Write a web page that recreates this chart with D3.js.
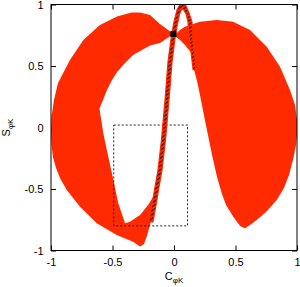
<!DOCTYPE html>
<html><head><meta charset="utf-8">
<script src="https://cdn.jsdelivr.net/npm/d3@7"></script>
<style>
body{margin:0;background:#fff}
svg{display:block}
text{font-family:"Liberation Sans",Arial,Helvetica,sans-serif}
</style>
</head><body>
<svg id="chart" width="300" height="287"></svg>
<script>
// ---- data (C_phiK, S_phiK) ----
const xTicks = [-1, -0.5, 0, 0.5, 1];
const yTicks = [-1, -0.5, 0, 0.5, 1];
const xTickLabels = ["-1", "-0.5", "0", "0.5", "1"];
const yTickLabels = ["-1", "-0.5", "0", "0.5", "1"];

// left crescent-shaped allowed region
const leftRegion = [
  [-0.004,0.760],[-0.114,0.841],[-0.195,0.915],[-0.276,0.935],[-0.344,0.935],[-0.463,0.902],
  [-0.602,0.833],[-0.737,0.711],[-0.846,0.549],[-0.943,0.362],[-0.976,0.224],[-0.996,0.085],
  [-1.0,-0.020],[-0.996,-0.142],[-0.984,-0.240],[-0.959,-0.329],[-0.927,-0.411],[-0.872,-0.508],
  [-0.764,-0.644],[-0.628,-0.779],[-0.466,-0.874],[-0.333,-0.928],[-0.276,-0.967],[-0.244,-0.947],
  [-0.220,-0.882],[-0.195,-0.793],[-0.171,-0.687],[-0.154,-0.589],[-0.134,-0.508],
  [-0.211,-0.630],[-0.276,-0.711],[-0.358,-0.766],[-0.398,-0.779],[-0.453,-0.616],[-0.493,-0.427],
  [-0.534,-0.237],[-0.575,-0.047],[-0.606,0.154],[-0.577,0.224],[-0.545,0.305],[-0.504,0.386],
  [-0.463,0.451],[-0.398,0.524],[-0.333,0.589],[-0.195,0.667],[-0.114,0.687]
];

// right allowed region
const rightRegion = [
  [0.004,0.752],[0.049,0.793],[0.089,0.820],[0.144,0.837],[0.211,0.860],[0.347,0.874],
  [0.480,0.860],[0.618,0.793],[0.754,0.657],[0.862,0.494],[0.943,0.305],[0.984,0.183],
  [1.0,0.061],[1.0,-0.061],[0.992,-0.142],[0.967,-0.264],[0.935,-0.386],[0.894,-0.492],
  [0.835,-0.589],[0.748,-0.687],[0.672,-0.752],[0.618,-0.793],[0.577,-0.820],[0.537,-0.801],
  [0.482,-0.725],[0.423,-0.630],[0.388,-0.535],[0.350,-0.402],[0.313,-0.240],[0.256,0.037],
  [0.203,0.305],[0.185,0.386],[0.157,0.494],[0.144,0.603],[0.089,0.671],[0.049,0.711],[0.004,0.744]
];

// narrow hatched band
const band = [
  [-0.203,-0.768],[-0.179,-0.630],[-0.159,-0.508],[-0.130,-0.346],[-0.102,-0.102],[-0.073,0.224],
  [-0.049,0.533],[-0.020,0.752],[0.0,0.858],[0.024,0.955],[0.049,1.0],[0.073,1.008],[0.098,0.988],
  [0.122,0.931],[0.146,0.858],[0.153,0.711],[0.167,0.590],[0.180,0.470],
  [0.155,0.470],[0.141,0.590],[0.125,0.711],[0.114,0.858],[0.098,0.923],[0.077,0.959],[0.061,0.959],
  [0.045,0.923],[0.028,0.841],[0.012,0.752],[-0.016,0.533],[-0.041,0.224],[-0.069,-0.102],
  [-0.098,-0.346],[-0.126,-0.508],[-0.146,-0.630],[-0.171,-0.768]
];

// best-fit point and dashed box
const bestFit = [[-0.005, 0.76]];
const boxC = [-0.49, 0.11];
const boxS = [-0.80, 0.02];

// ---- drawing ----
const RED = "#ff2a00";
const svg = d3.select("#chart");
const x = d3.scaleLinear().domain([-1, 1]).range([51, 297]);
const y = d3.scaleLinear().domain([-1, 1]).range([250.5, 4.5]);

const defs = svg.append("defs");
defs.append("clipPath").attr("id", "plotclip")
  .append("rect").attr("x", 51).attr("y", 4.5).attr("width", 246).attr("height", 246);
const pat = defs.append("pattern").attr("id", "hatch")
  .attr("patternUnits", "userSpaceOnUse").attr("width", 6).attr("height", 3.2)
  .attr("patternTransform", "rotate(-35)");
pat.append("rect").attr("width", 6).attr("height", 3.2).attr("fill", RED);
pat.append("rect").attr("width", 6).attr("height", 1.1).attr("fill", "#111");

function styleAxis(g) {
  g.select(".domain").remove();
  g.selectAll(".tick line").attr("stroke", "#000");
  g.selectAll(".tick text").attr("font-size", 11).attr("fill", "#000")
    .attr("font-family", "'Liberation Sans',Arial,sans-serif");
}

svg.append("g").attr("transform", "translate(0,250.5)")
  .call(d3.axisBottom(x).tickValues(xTicks).tickSize(-5).tickPadding(8)
    .tickFormat((d, i) => xTickLabels[i])).call(styleAxis);
svg.append("g").attr("transform", "translate(0,4.5)")
  .call(d3.axisTop(x).tickValues(xTicks).tickSize(-5).tickFormat("")).call(styleAxis);
svg.append("g").attr("transform", "translate(51,0)")
  .call(d3.axisLeft(y).tickValues(yTicks).tickSize(-5).tickPadding(7.5)
    .tickFormat((d, i) => yTickLabels[i])).call(styleAxis);
svg.append("g").attr("transform", "translate(297,0)")
  .call(d3.axisRight(y).tickValues(yTicks).tickSize(-5).tickFormat("")).call(styleAxis);

const line = d3.line().x(d => x(d[0])).y(d => y(d[1])).curve(d3.curveLinearClosed);
const plot = svg.append("g").attr("clip-path", "url(#plotclip)");

plot.append("path").attr("d", line(leftRegion)).attr("fill", RED);
plot.append("path").attr("d", line(rightRegion)).attr("fill", RED);

plot.append("rect")
  .attr("x", x(boxC[0])).attr("y", y(boxS[1]))
  .attr("width", x(boxC[1]) - x(boxC[0])).attr("height", y(boxS[0]) - y(boxS[1]))
  .attr("fill", "none").attr("stroke", "#222").attr("stroke-width", 1)
  .attr("stroke-dasharray", "2,2");

plot.append("path").attr("d", line(band)).attr("fill", "url(#hatch)")
  .attr("stroke", RED).attr("stroke-width", 1.2);

plot.selectAll("rect.pt").data(bestFit).join("rect").attr("class", "pt")
  .attr("x", d => x(d[0]) - 3).attr("y", d => y(d[1]) - 3)
  .attr("width", 6).attr("height", 6).attr("fill", "#000");

svg.append("rect").attr("x", 51).attr("y", 4.5).attr("width", 246).attr("height", 246)
  .attr("fill", "none").attr("stroke", "#000").attr("stroke-width", 1);

// axis titles
const xt = svg.append("text").attr("x", 174).attr("y", 280).attr("text-anchor", "middle")
  .attr("font-size", 11).attr("fill", "#000");
xt.append("tspan").text("C");
xt.append("tspan").attr("dy", 3).attr("font-size", 8).text("φK");

const yt = svg.append("text").attr("transform", "translate(9.5,127.5) rotate(-90)")
  .attr("text-anchor", "middle").attr("font-size", 11).attr("fill", "#000");
yt.append("tspan").text("S");
yt.append("tspan").attr("dy", 3).attr("font-size", 8).text("φK");
</script>
</body></html>
